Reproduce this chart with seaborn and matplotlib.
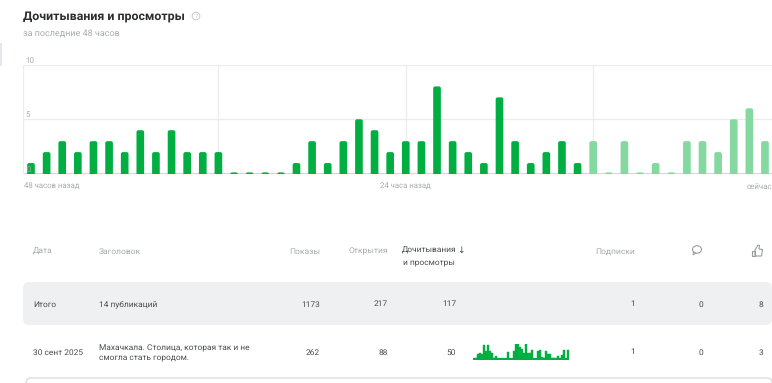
import pandas as pd
import seaborn as sns
import matplotlib.pyplot as plt
from matplotlib.patches import FancyBboxPatch, Ellipse, Polygon, Rectangle, Circle

W, H = 772, 383

values = [1, 2, 3, 2, 3, 3, 2, 4, 2, 4, 2, 2, 2, 0, 0, 0, 0, 1, 3, 1, 3, 5, 4, 2,
          3, 3, 8, 3, 2, 1, 7, 3, 1, 2, 3, 1, 3, 0, 3, 0, 1, 0, 3, 3, 2, 5, 6, 3]
periods = ["old"] * 36 + ["recent"] * 12
spark = [0, 1, 5, 6, 5, 14, 8, 14, 8, 6, 1, 3, 0, 0, 0, 0, 0, 7, 0, 0, 8, 15, 15, 12,
         10, 6, 15, 6, 6, 9, 0, 0, 8, 9, 2, 1, 8, 5, 5, 1, 1, 0, 3, 0, 4, 9, 0, 9]
x_labels = ["48 часов назад", "24 часа назад", "сейчас"]
y_ticks = [0, 5, 10]

header_left = ["Дата", "Заголовок"]
header_right = ["Показы", "Открытия", "Подписки"]
total_row = ["Итого", "14 публикаций", "1173", "217", "117", "1", "0", "8"]
post_row = ["30 сент 2025", "Махачкала. Столица, которая так и не\nсмогла стать городом.",
            "262", "88", "50", "1", "0", "3"]

GREEN = "#00ae42"
LIGHT = "#84d8a0"
GRID = "#ececec"
GRAY = "#a9abae"
DARK = "#4a4d52"

sns.set_theme(style="white")
plt.rcParams["font.family"] = ["Roboto", "DejaVu Sans"]
plt.rcParams["text.hinting"] = "no_hinting"

fig = plt.figure(figsize=(W / 100, H / 100), dpi=100)


def px_axes(left, top, right, bottom):
    return fig.add_axes([left / W, 1 - bottom / H, (right - left) / W, (bottom - top) / H])


# page level things: texts, table band, icons
page = px_axes(0, 0, W, H)
page.set_xlim(0, W)
page.set_ylim(H, 0)
page.axis("off")


def txt(x, y, s, color=DARK, size=6.0, ha="left", **kw):
    page.text(x, y, s, color=color, fontsize=size, ha=ha, va="center_baseline", **kw)


page.add_patch(Rectangle((0, 43), 1.5, 23, color="#e4e8ee", lw=0))
txt(23, 15.5, "Дочитывания и просмотры", color="#2b2d31", size=8.9, fontweight="bold")
txt(23, 32.5, "за последние 48 часов", color=GRAY, size=6.5)
page.add_patch(Circle((196, 16), 3.8, fill=False, ec="#c8cacc", lw=0.7))
txt(196, 16, "?", color="#c0c2c4", size=4.6, ha="center")

# table band
page.add_patch(FancyBboxPatch((27, 286), 741, 35, boxstyle="round,pad=4,rounding_size=6",
                              fc="#eff0f2", ec="none"))
# next row outline, only its top edge is visible
page.add_patch(FancyBboxPatch((30, 382), 738, 20, boxstyle="round,pad=4,rounding_size=5",
                              fc="none", ec="#d9dadc", lw=0.9))

txt(33, 250.5, header_left[0], color=GRAY, size=6.1)
txt(99, 250.5, header_left[1], color=GRAY, size=6.1)
txt(320, 250.5, header_right[0], color=GRAY, ha="right", size=6.1)
txt(388, 250.5, header_right[1], color=GRAY, ha="right", size=6.1)
txt(635, 250.5, header_right[2], color=GRAY, ha="right", size=6.1)
txt(402, 250, "Дочитывания", color=DARK)
txt(403, 261.5, "и просмотры", color=DARK)
txt(457.5, 250, "↓", color=DARK, size=6.5)

right_edges = [320, 388, 456, 635, 703, 763]
for y, row in [(303.5, total_row), (351.5, post_row)]:
    txt(33, y, row[0])
    txt(99, y, row[1], linespacing=1.25)
    for edge, val in zip(right_edges, row[2:]):
        txt(edge, y, val, ha="right")

# comment icon
page.add_patch(Ellipse((697, 249.5), 9, 7.5, fill=False, ec="#9a9c9f", lw=0.8))
page.add_patch(Polygon([(693.5, 252), (693, 255), (696, 253)], fc="white", ec="#9a9c9f", lw=0.7))
# like icon
page.add_patch(Polygon([(755, 250), (758, 245), (759.5, 245.5), (759, 249), (762.5, 249.5),
                        (761.5, 256), (755, 256)], fill=False, ec="#9a9c9f", lw=0.8))
page.add_patch(Rectangle((752, 250.5), 3, 5.5, fill=False, ec="#9a9c9f", lw=0.8))

# main chart
ax = px_axes(23, 64.5, W, 174)
ax.patch.set_alpha(0)
df = pd.DataFrame({"slot": range(len(values)), "value": values, "period": periods})
df["shown"] = df["value"].clip(lower=0.15)  # empty hours still get a small stub
sns.barplot(data=df, x="slot", y="shown", hue="period", dodge=False, width=0.49, saturation=1,
            palette={"old": GREEN, "recent": LIGHT}, legend=False, ax=ax, zorder=3)

# round the bar tops, the part below zero is cut by the axes
for bar in list(ax.patches):
    x0, w, h = bar.get_x(), bar.get_width(), bar.get_height()
    if h <= 0:
        bar.remove()
        continue
    ax.add_patch(FancyBboxPatch((x0, -1), w, h + 1,
                                boxstyle="round,pad=0,rounding_size=0.13",
                                mutation_aspect=1.4, fc=bar.get_facecolor(), ec="none", zorder=3))
    bar.remove()

ax.set_xlim(-0.512, 47.45)
ax.set_ylim(0, 10)
ax.set_xlabel("")
ax.set_ylabel("")
ax.set_yticks(y_ticks)
ax.set_yticklabels([])
ax.set_xticks([])
for s in ax.spines.values():
    s.set_visible(False)
for t in y_ticks:
    ax.axhline(t, color="#d4d5d7" if t == 0 else GRID, lw=1.4 if t == 0 else 0.9, zorder=1)
    ax.annotate(str(t), (0, t), xycoords=("axes fraction", "data"), xytext=(1.5 if t else 2.5, 3),
                textcoords="offset points", color=GRAY, fontsize=5.8, va="center")
for slot in [-0.512, 12, 24, 36]:
    ax.axvline(slot, color=GRID, lw=0.9, zorder=1)

txt(24, 185.5, x_labels[0], color=GRAY, size=5.6)
txt(405.5, 185.5, x_labels[1], color=GRAY, size=5.6, ha="center")
txt(747, 185.5, x_labels[2], color=GRAY, size=5.7)

# small bars inside the table row
mini = px_axes(473, 344, 569, 359.5)
mini.patch.set_alpha(0)
sdf = pd.DataFrame({"slot": range(len(spark)), "value": spark})
sns.barplot(data=sdf, x="slot", y="value", color=GREEN, saturation=1, width=1.0,
            edgecolor=GREEN, linewidth=0.3, ax=mini)
mini.set_xlim(-0.5, 47.5)
mini.set_ylim(-1, 15)
mini.axhline(0, color=GREEN, lw=1.6)
mini.axis("off")

plt.savefig("out.png", dpi=100)
